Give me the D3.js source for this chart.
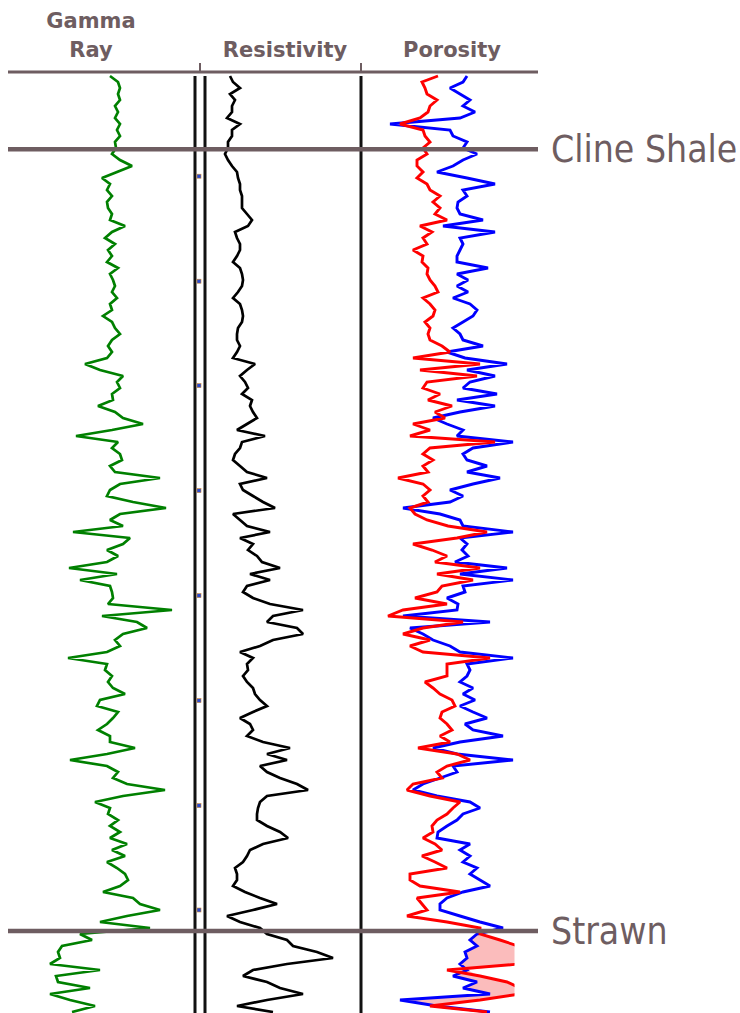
<!DOCTYPE html>
<html><head><meta charset="utf-8">
<script src="https://cdn.jsdelivr.net/npm/d3@7/dist/d3.min.js"></script>
<style>html,body{margin:0;padding:0;background:#fff;}svg{display:block;}</style>
</head><body>
<svg id="chart" width="740" height="1013"></svg>
<script>
// ---- data ----
const trackLabels = [["Gamma", "Ray"], ["Resistivity"], ["Porosity"]];
// curves sampled at regular depth steps (sample index 0..156)
const gammaRay = [
102,110,112,110,112,107,110,107,112,109,
112,107,108,104,112,124,109,94,102,99,
104,99,100,104,102,117,104,97,107,100,
104,99,110,102,105,107,104,109,102,104,
95,104,107,112,104,100,104,99,77,92,
115,109,112,104,105,90,107,115,135,104,
68,110,104,112,114,102,107,152,112,102,
99,125,158,112,102,115,65,122,115,99,
110,99,61,109,72,102,104,105,100,164,
94,129,139,115,107,112,99,60,99,97,
104,100,105,117,92,89,110,105,99,90,
102,102,127,99,62,99,110,105,119,157,
115,87,102,100,110,102,112,102,119,104,
117,99,109,117,120,112,95,125,132,152,
119,92,142,72,84,54,50,52,42,92,
48,50,82,42,62,87,64];
const resistivity = [
25,28,35,25,30,27,27,22,35,27,
27,23,23,20,23,27,32,33,35,35,
37,37,37,42,47,43,30,32,35,35,
32,28,35,37,38,37,33,28,35,37,
38,37,33,32,32,35,32,28,50,42,
35,40,43,37,47,45,48,52,42,32,
60,37,35,30,28,35,42,62,35,38,
48,58,70,28,35,42,65,35,48,43,
52,57,75,45,65,42,38,48,65,98,
68,62,92,98,68,55,35,48,42,43,
38,42,48,50,55,62,48,35,45,48,
42,58,85,62,82,55,62,75,92,103,
62,55,53,52,52,62,75,83,58,45,
42,38,30,32,32,28,40,55,72,48,
22,35,55,62,82,88,112,128,82,48,
38,62,75,98,62,32,68];
const porosityRed = [
77,61,64,66,76,69,67,59,39,62,
64,69,62,66,56,56,62,56,66,69,
79,72,79,74,86,59,71,62,66,52,
62,61,67,66,69,74,77,62,69,74,
72,64,69,67,69,81,89,52,119,59,
116,66,62,79,67,91,74,84,52,69,
49,134,69,62,72,62,67,37,62,69,
62,67,49,54,66,87,126,96,52,71,
86,74,119,76,112,81,76,54,86,42,
27,102,62,42,69,49,62,129,86,86,
86,64,72,79,91,94,81,79,86,91,
79,89,57,96,109,86,76,81,52,46,
69,99,92,86,76,71,72,62,74,81,
61,74,86,49,49,59,99,56,61,66,
46,86,119,119,139,157,159,159,159,86,
119,146,159,159,119,69,126];
const porosityBlue = [
106,102,89,99,109,102,114,99,29,89,
92,106,102,116,102,92,76,106,134,102,
106,97,96,99,122,82,134,99,102,99,
96,96,127,96,107,96,107,92,109,116,
112,102,92,99,102,122,86,104,146,106,
134,109,102,136,96,134,99,72,86,102,
96,152,112,102,106,126,106,139,112,89,
102,89,42,79,99,102,152,99,106,101,
107,94,146,99,152,102,104,86,97,96,
42,129,49,62,72,89,99,152,106,109,
106,99,112,102,114,99,112,126,104,112,
142,99,72,96,152,92,96,79,62,52,
76,109,119,102,96,86,77,76,109,99,
109,102,116,109,119,129,102,86,79,79,
99,119,142,116,109,116,104,106,99,106,
92,116,102,129,39,76,129];
const formationNames = ["Cline Shale", "Strawn"];
const formationDepths = [12.2, 142.5];
const depthMarks = [16.7, 34.2, 51.6, 69.1, 86.6, 104.1, 121.6, 139.0];

// ---- layout ----
const W = 740, H = 1013;
const headerY = 72, curveTop = 76;
const porTrack = [361, 514.5];
const lineColor = "#6e5d61";

const svg = d3.select("#chart");
svg.append("rect").attr("width", W).attr("height", H).attr("fill", "#fff");

const depths = gammaRay.map((v, i) => i);
const y = d3.scaleLinear().domain([0, gammaRay.length - 1]).range([curveTop, 1012]);
const xGR = d3.scaleLinear().domain([0, 200]).range([8, 208]);
const xRes = d3.scaleLinear().domain([0, 160]).range([205, 365]);
const xPor = d3.scaleLinear().domain([0, 156]).range([361, 517]);

const defs = svg.append("defs");
defs.append("clipPath").attr("id", "porClip").append("rect")
  .attr("x", porTrack[0]).attr("y", 0).attr("width", porTrack[1] - porTrack[0]).attr("height", H);
defs.append("clipPath").attr("id", "strawnClip").append("rect")
  .attr("x", porTrack[0]).attr("y", y(formationDepths[1]))
  .attr("width", porTrack[1] - porTrack[0]).attr("height", H);

// track borders
const vLines = [195, 205, 361];
svg.append("g").selectAll("line").data(vLines).join("line")
  .attr("x1", d => d).attr("x2", d => d).attr("y1", curveTop).attr("y2", H)
  .attr("stroke", "#111").attr("stroke-width", 3);

// depth markers
svg.append("g").selectAll("rect").data(depthMarks).join("rect")
  .attr("x", 197).attr("y", d => y(d) - 2).attr("width", 4).attr("height", 4)
  .attr("fill", "#2a4bd0").attr("stroke", "#d08a30").attr("stroke-width", 0.6);

// crossover shading (Strawn)
const area = d3.area()
  .y((d, i) => y(i))
  .x0((d, i) => xPor(porosityBlue[i]))
  .x1((d, i) => xPor(Math.max(porosityRed[i], porosityBlue[i])))
  .defined((d, i) => i >= 141);
svg.append("path").datum(depths)
  .attr("clip-path", "url(#strawnClip)")
  .attr("d", area).attr("fill", "#fbbcbc");

function curve(values, xs, color, width, clip) {
  const line = d3.line().x(d => xs(d)).y((d, i) => y(i));
  const p = svg.append("path").datum(values)
    .attr("d", line).attr("fill", "none")
    .attr("stroke", color).attr("stroke-width", width)
    .attr("stroke-linejoin", "miter").attr("stroke-miterlimit", 2);
  if (clip) p.attr("clip-path", "url(#" + clip + ")");
}
curve(gammaRay, xGR, "#008000", 2.7);
curve(resistivity, xRes, "#000", 2.7);
curve(porosityBlue, xPor, "#0000ff", 2.9, "porClip");
curve(porosityRed, xPor, "#ff0000", 2.9, "porClip");

// header line and ticks
svg.append("line").attr("x1", 8).attr("x2", 538).attr("y1", headerY).attr("y2", headerY)
  .attr("stroke", lineColor).attr("stroke-width", 3);
svg.append("g").selectAll("line").data([200, 361]).join("line")
  .attr("x1", d => d).attr("x2", d => d).attr("y1", 63).attr("y2", headerY)
  .attr("stroke", lineColor).attr("stroke-width", 2);

// formation tops
svg.append("g").selectAll("line").data(formationDepths).join("line")
  .attr("x1", 8).attr("x2", 538).attr("y1", d => y(d)).attr("y2", d => y(d))
  .attr("stroke", lineColor).attr("stroke-width", 4.5);
svg.append("g").selectAll("text").data(formationNames).join("text")
  .attr("x", 551).attr("y", (d, i) => y(formationDepths[i]))
  .attr("dominant-baseline", "central")
  .attr("font-family", "'DejaVu Sans Condensed', 'DejaVu Sans', sans-serif")
  .attr("font-stretch", "condensed")
  .attr("font-size", 37).attr("fill", lineColor).text(d => d);

// track titles
const titleX = [91, 285, 452];
trackLabels.forEach((lines, t) => {
  lines.forEach((s, j) => {
    svg.append("text").attr("x", titleX[t])
      .attr("y", 57 - (lines.length - 1 - j) * 29)
      .attr("text-anchor", "middle")
      .attr("font-family", "'DejaVu Sans', sans-serif")
      .attr("font-weight", "bold").attr("font-size", 21)
      .attr("fill", lineColor).text(s);
  });
});
</script>
</body></html>
